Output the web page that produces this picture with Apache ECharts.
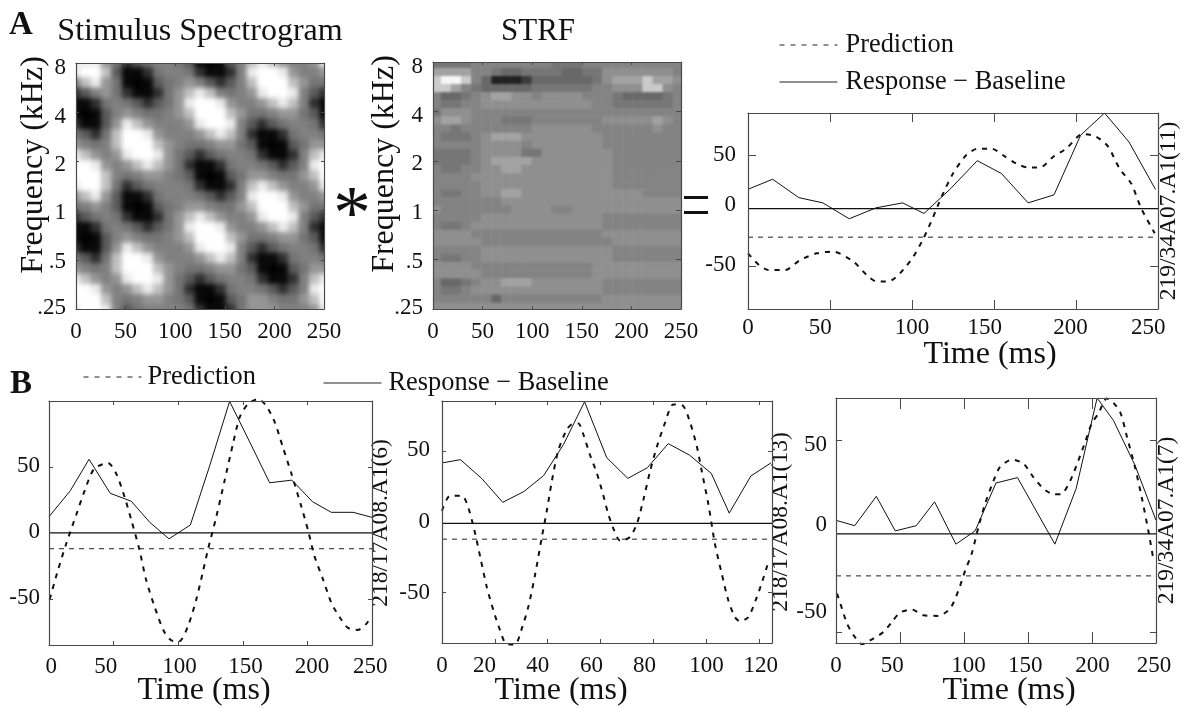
<!DOCTYPE html>
<html><head><meta charset="utf-8">
<style>html,body{margin:0;padding:0;background:#fff}
#c{position:absolute;left:0;top:0;width:1184px;height:708px}
.clip{position:absolute;overflow:hidden}
.heat{position:absolute}
</style>
<script src="https://cdn.jsdelivr.net/npm/echarts@6/dist/echarts.min.js"></script>
</head><body>
<div class="clip" style="left:76px;top:63px;width:248px;height:246px"><div class="heat" id="h1" style="left:-6px;top:-6px;width:260px;height:258px;filter:blur(2.6px)"></div></div>
<div class="clip" style="left:433px;top:62px;width:248px;height:247px"><div class="heat" id="h2" style="left:-2px;top:-2px;width:252px;height:251px;filter:blur(1.2px)"></div></div>
<div id="c"></div>
<script>
// ---- tick labels ----
const freqLabels = ['.25','.5','1','2','4','8'];
const timeLabels250 = ['0','50','100','150','200','250'];
const timeLabels125 = ['0','20','40','60','80','100','120'];
const amplitudeLabels = ['-50','0','50'];

// ---- heat maps, grey levels 0 (black) .. 9 (white), read row by row from the top ----
const spectrogramRows = [
'8886423455431013578765568','8997311245542112589986556','5786410134565323579997644',
'2356421124678754568998532','1124543234689986556787521','1013565445679997644566431',
'2113687655568998532345542','4324799865556787521124554','6545799976544566431013466',
'8765689986432345542112578','9986567876421124554323589','9997545665431013466544679',
'8997423455542112578765568','6786311245554323589986556','4565310134566544679997644',
'2345421124678765568998532','1124543234689986556787521','1013565445679997644566431',
'2113687655568998532345542','4324799865556787521124554','6545799976544566431013466',
'8765689986432345542112578','9986567876421124554323589','9997545665431013466544679',
'8998534555542112466655568'];
const strfRows = [
'4444555555554445555555555','7777554334444334466666665','8998530001333333467778776',
'8875433333444444556668865','5334567766566665554333345','5445566666666666554444445',
'4666555555555555555555555','6776555444555555566666765','5545555555666666555555655',
'5444567776666666655555555','5555566665666666655555555','4444566664466666665555555',
'4444567777666666665555555','5445566776666666665555555','5555666666666666665555555',
'5555566666666666665555555','5445566776666666666665555','5555555666666666666666666',
'6555555566665566666666666','5555566666666666655555555','5445666666666666655555555',
'6666555555555555566666666','6666655555555555556666666','5555566666666666665555555',
'5445566666666666665555555','6666555555555555666666666','6666655555555555666666666',
'5334566777666666655555555','5445666666666666655555555','5555553555555555566666666',
'6666666666666666666666666'];
const spectrogramGreys = ['#000000','#080808','#303030','#5a5a5a','#747474','#808080','#959595','#c0c0c0','#ebebeb','#ffffff'];
const strfGreys = ['#222222','#3c3c3c','#565656','#686868','#767676','#838383','#8f8f8f','#a2a2a2','#cacaca','#f6f6f6'];

// ---- panel A right ----
const a3Response = [[0,19.5],[15,28.5],[31,12],[45.6,7.3],[61.7,-7],[78,2.8],[94.3,7.3],[107.3,-2.2],[123.5,20],[139.8,45.2],[154.6,33.6],[170.8,7.3],[186.6,14.5],[202.8,68],[217.4,88],[232.3,62],[248.5,19.3]];
const a3Prediction = [[0,-38],[6.7,-48.5],[12.6,-53],[22.7,-53],[31.8,-44],[42,-38],[52,-36.5],[64.3,-45.5],[72.4,-57.5],[78.5,-63.4],[85.6,-63.4],[92.7,-56],[100.8,-41],[107,-24.6],[113,-5],[118,12.7],[125,33.6],[133,50],[140,56],[148.5,56],[156.6,49],[163.7,42.5],[170.8,39],[178,39],[186,48.5],[194,56],[204,69],[212,67],[219.5,58],[226.6,38],[233.7,24.6],[239.8,2.2],[248,-20]];
const a3ZeroLevel = 2.2, a3MeanLevel = -23.5;
// ---- panel B left ----
const b1Response = [[0,12.3],[16.5,32],[31,55.8],[47.4,30],[63.7,24],[78,8],[92.9,-4.5],[109.4,6],[124.4,51],[139.8,99.7],[155.3,69],[170.8,38],[188,40],[204,23.6],[218.5,15.6],[235.3,15.6],[250,11.8]];
const b1Prediction = [[0.5,-50.5],[7,-28],[13.4,-8],[21,13.5],[27.6,32],[35,48.7],[45.7,53],[52,45],[58.6,27],[63.7,9.8],[70,-12.8],[75,-35],[82,-56.8],[89.5,-75.6],[96,-82],[101,-82],[107.6,-70.6],[114,-50.5],[119,-30],[123,-12.8],[129.5,12.3],[136,40],[142.4,67.6],[147.6,87.7],[154,97.7],[161.8,101.5],[168,96.5],[174.7,84],[181,65],[187.6,45],[195.3,20],[200.5,2],[205.6,-18],[212,-35],[218.5,-53],[225,-64],[231.4,-72],[239,-73.6],[245.6,-69],[249.5,-63]];
const b1ZeroLevel = 0, b1MeanLevel = -12;
// ---- panel B middle ----
const b2Response = [[0,42],[7,44.3],[15,31],[23,14],[31,21.6],[38.5,33],[46,55],[54,85.5],[62.4,45.7],[70.4,31],[77.8,38.6],[85.7,55.7],[93.7,47.6],[102,34.6],[108.8,6.3],[117,32.7],[124.6,42]];
const b2Prediction = [[0,8],[3,18.6],[7.6,18.6],[10,10],[12.6,-8.6],[14.5,-25],[17,-46.5],[19.5,-63],[22,-77],[24.3,-86.6],[27.7,-87],[30,-77],[32.8,-59.5],[35.3,-37],[37.8,-11],[39.7,8],[41.6,29],[44,50.5],[47.3,65.8],[49.8,70],[51.7,70],[53.6,62],[56,48],[58.6,35],[61,19.7],[63,5.5],[65,-5],[67.5,-13.4],[71,-11],[73.8,-1.5],[76.3,16],[78.8,36],[81.3,53],[84.5,70.6],[87.6,83.6],[91.4,82.4],[94,70.6],[96.5,54],[98.4,36],[100.9,12.6],[103.4,-15.7],[106,-37],[108.5,-56],[111,-67.7],[112.9,-70.6],[116,-67.7],[119,-54.7],[121,-44],[123.6,-28.7]];
const b2ZeroLevel = -1, b2MeanLevel = -12.2;
// ---- panel B right ----
const b3Response = [[0,8.4],[14.6,5.6],[31.5,20.9],[46.3,2.9],[62.7,5.6],[77,18],[93.7,-4],[108.7,2.9],[125,27.8],[141.8,30.6],[171,-4],[187.6,24.9],[204,72],[216.7,60.4],[233.6,37],[250,8.4]];
const b3Prediction = [[0.8,-29.7],[4.7,-37.5],[8.6,-45.3],[13.8,-51.4],[20.3,-56],[29.4,-53],[37,-49.7],[43.7,-44.5],[50,-39.6],[59.3,-38],[68.4,-41],[80,-41.3],[89.2,-37.5],[95.7,-28],[101,-17.6],[106,-9],[111.3,5],[116.5,17],[121.7,26.6],[128,36],[137.4,40],[146.5,37.9],[154,31],[162,24.9],[170,21.9],[176,22],[183,29],[189.4,39.6],[194.6,49],[199.8,58.7],[205,63.9],[211.5,71.7],[215,70.8],[222,64.7],[227,52.6],[233.6,36],[238.8,20.5],[244,3],[248,-12]];
const b3ZeroLevel = 1.3, b3MeanLevel = -20.5;

const SERIF = 'Liberation Serif';
const INK = '#111';
const FRAME = '#4a4a4a';
const PRED = 'Prediction', RESP = 'Response \u2212 Baseline';

const grids = [], xAxes = [], yAxes = [], series = [];

function heatPanel(id, rows, greys) {
  const cols = rows[0].length, nr = rows.length, data = [];
  rows.forEach((r,j)=>{ for(let i=0;i<cols;i++) data.push([i,j,+r[i]]); });
  const chart = echarts.init(document.getElementById(id));
  chart.setOption({
    animation:false,
    grid:{left:0,right:0,top:0,bottom:0,outerBoundsMode:'none'},
    xAxis:{type:'category',show:false,data:Array.from({length:cols},(_,i)=>i)},
    yAxis:{type:'category',show:false,inverse:true,data:Array.from({length:nr},(_,i)=>i)},
    visualMap:{show:false,min:0,max:9,inRange:{color:greys}},
    series:[{type:'heatmap',data,itemStyle:{borderWidth:0},animation:false,progressive:0,silent:true}]
  });
}

function frame(rect, x, y) {
  const g = grids.length; grids.push(Object.assign({outerBoundsMode:'none'},rect));
  const xi = xAxes.length, yi = yAxes.length;
  const line = {show:true,onZero:false,lineStyle:{color:FRAME,width:1.2}};
  const lab = {fontFamily:SERIF,fontSize:23,color:INK};
  xAxes.push({type:'value',gridIndex:g,min:x.min,max:x.max,position:'bottom',z:5,silent:true,
    axisLine:line,splitLine:{show:false},
    axisTick:{show:true,inside:true,length:x.tick,customValues:x.ticks,lineStyle:{color:FRAME}},
    axisLabel:Object.assign({show:true,margin:x.margin,customValues:x.labelAt,formatter:v=>x.labels[x.labelAt.indexOf(v)]},lab)});
  xAxes.push({type:'value',gridIndex:g,min:x.min,max:x.max,position:'top',z:5,silent:true,
    axisLine:line,splitLine:{show:false},axisLabel:{show:false},
    axisTick:{show:true,inside:true,length:x.tick,customValues:x.ticks,lineStyle:{color:FRAME}}});
  yAxes.push({type:'value',gridIndex:g,min:y.min,max:y.max,position:'left',z:5,silent:true,
    axisLine:line,splitLine:{show:false},
    axisTick:{show:true,inside:true,length:y.tick,customValues:y.ticks,lineStyle:{color:FRAME}},
    axisLabel:Object.assign({show:true,margin:y.margin,customValues:y.labelAt,formatter:v=>y.labels[y.labelAt.indexOf(v)]},lab)});
  yAxes.push({type:'value',gridIndex:g,min:y.min,max:y.max,position:'right',z:5,silent:true,
    axisLine:line,splitLine:{show:false},axisLabel:{show:false},
    axisTick:{show:true,inside:true,length:y.tick,customValues:y.ticks,lineStyle:{color:FRAME}},
    name:y.rightName||'',nameLocation:'middle',nameRotate:90,nameGap:y.rightGap||0,
    nameTextStyle:{fontFamily:SERIF,fontSize:23.5,color:INK}});
  return {xi,yi};
}

function linePanel(rect, x, y, resp, pred, zero, mean) {
  const a = frame(rect, x, y);
  const base = {type:'line',xAxisIndex:a.xi,yAxisIndex:a.yi,symbol:'none',animation:false,silent:true,z:3};
  series.push(Object.assign({},base,{name:'Zero',data:[[x.min,zero],[x.max,zero]],lineStyle:{color:'#111',width:1.2}}));
  series.push(Object.assign({},base,{name:'Mean',data:[[x.min,mean],[x.max,mean]],lineStyle:{color:'#222',width:1,type:[5,5]}}));
  series.push(Object.assign({},base,{name:RESP,data:resp,lineStyle:{color:INK,width:1}}));
  series.push(Object.assign({},base,{name:PRED,data:pred,smooth:0.25,clip:false,lineStyle:{color:INK,width:2,type:[5,6]}}));
}

heatPanel('h1', spectrogramRows, spectrogramGreys);
frame({left:76,top:63,width:248,height:246},
  {min:0,max:250,tick:3,margin:11,ticks:[50,100,150,200],labelAt:[0,50,100,150,200,250],labels:timeLabels250},
  {min:0,max:5,tick:3,margin:10,ticks:[1,2,3,4],labelAt:[0.02,0.955,1.95,2.93,3.9,4.9],labels:freqLabels});
heatPanel('h2', strfRows, strfGreys);
frame({left:433,top:62,width:248,height:247},
  {min:0,max:250,tick:3,margin:11,ticks:[50,100,150,200],labelAt:[0,50,100,150,200,250],labels:timeLabels250},
  {min:0,max:5,tick:5,margin:10,ticks:[1,2,3,4],labelAt:[0.02,0.955,1.95,2.93,3.9,4.9],labels:freqLabels});

linePanel({left:748,top:113,width:410,height:196},
  {min:0,max:250,tick:9,margin:7,ticks:[50,100,150,200],labelAt:[0,44,100,144.4,196.6,244],labels:timeLabels250},
  {min:-88,max:88,tick:8,margin:12,ticks:[-50,50],labelAt:[-48.5,5.2,50],labels:amplitudeLabels,rightName:'219/34A07.A1(11)',rightGap:-1},
  a3Response,a3Prediction,a3ZeroLevel,a3MeanLevel);
linePanel({left:49,top:401,width:323,height:244},
  {min:0,max:250,tick:4,margin:10,ticks:[50,100,150,200],labelAt:[1.8,43.9,101,152,203.6,248.7],labels:timeLabels250},
  {min:-85,max:100,tick:4,margin:9,ticks:[-50,50],labelAt:[-49.2,1,50.5],labels:amplitudeLabels,rightName:'218/17A08.A1(6)',rightGap:-3},
  b1Response,b1Prediction,b1ZeroLevel,b1MeanLevel);
linePanel({left:442,top:401,width:330,height:242},
  {min:0,max:125,tick:4,margin:11,ticks:[20,40,60,80,100,120],labelAt:[0,16.1,36.3,56.6,76.7,100.2,120.7],labels:timeLabels125},
  {min:-86,max:86,tick:4,margin:12,ticks:[-50,50],labelAt:[-50.5,0,51],labels:amplitudeLabels,rightName:'218/17A08.A1(13)',rightGap:-3},
  b2Response,b2Prediction,b2ZeroLevel,b2MeanLevel);
linePanel({left:836,top:398,width:320,height:245},
  {min:0,max:250,tick:11,margin:11,ticks:[50,100,150,200],labelAt:[0,44,103.5,147.8,200.3,248.4],labels:timeLabels250},
  {min:-55.4,max:72,tick:6,margin:9,ticks:[-50,50],labelAt:[-39.3,5.8,47.4],labels:amplitudeLabels,rightName:'219/34A07.A1(7)',rightGap:-1},
  b3Response,b3Prediction,b3ZeroLevel,b3MeanLevel);

function txt(s,x,y,size,opt){opt=opt||{};return {type:'text',x,y,rotation:opt.rot||0,z:20,silent:true,
  style:{text:s,fontFamily:opt.family||SERIF,fontSize:size,fontWeight:opt.weight||'normal',fill:'#111',align:'center',verticalAlign:'middle'}};}

const legendBase = {itemHeight:20,itemWidth:58,selectedMode:false,
  itemStyle:{opacity:0,color:'transparent',borderWidth:0},
  lineStyle:{width:1,color:'#222'}};
const legendText = pad => ({fontFamily:SERIF,fontSize:26.4,color:INK,padding:pad});

const chart = echarts.init(document.getElementById('c'),null,{renderer:'canvas'});
chart.setOption({
  animation:false,backgroundColor:'transparent',
  grid:grids,xAxis:xAxes,yAxis:yAxes,series,
  legend:[
    Object.assign({},legendBase,{left:774,top:27,orient:'vertical',itemGap:11,data:[PRED,RESP],textStyle:legendText([0,0,0,3])}),
    Object.assign({},legendBase,{left:78,top:359,data:[PRED],textStyle:legendText([0,0,8,1])}),
    Object.assign({},legendBase,{left:318,top:365,data:[RESP],textStyle:legendText([0,0,0,2])})
  ],
  graphic:[
    txt('A',21,25,33,{weight:'bold'}),
    txt('B',21,384,33,{weight:'bold'}),
    txt('Stimulus Spectrogram',200,32,32),
    txt('STRF',538,32,31),
    txt('Frequency (kHz)',34,165,32,{rot:Math.PI/2}),
    txt('Frequency (kHz)',385,164,32,{rot:Math.PI/2}),
    txt('Time (ms)',990,355,32),
    txt('Time (ms)',204,691,32),
    txt('Time (ms)',561,691,32),
    txt('Time (ms)',1009,691,32),
    txt('*',352,218,76),
    {type:'rect',z:20,silent:true,shape:{x:684,y:196,width:24,height:3},style:{fill:'#111'}},
    {type:'rect',z:20,silent:true,shape:{x:684,y:211,width:24,height:3},style:{fill:'#111'}}
  ]
});
</script></body></html>
